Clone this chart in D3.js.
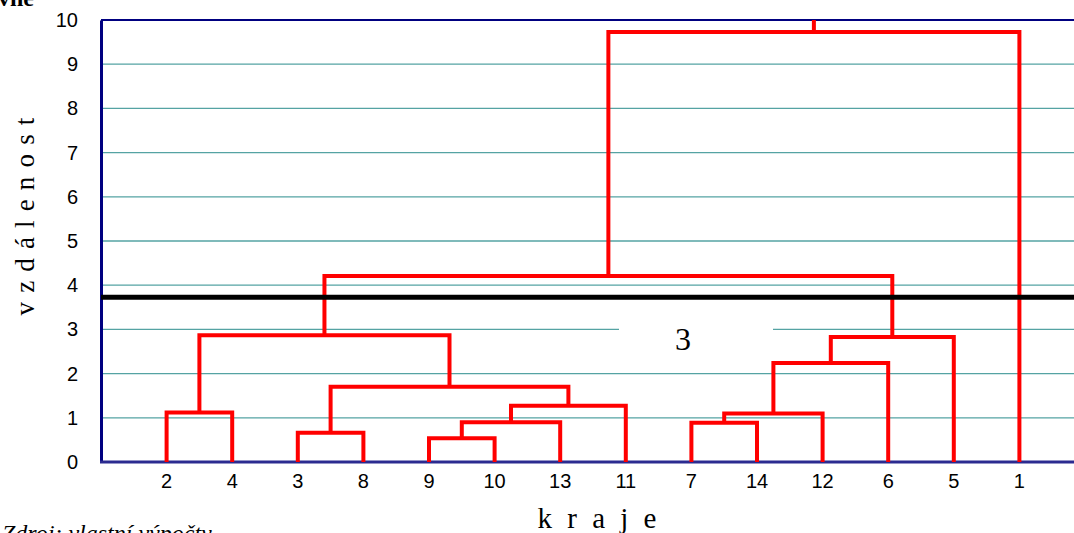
<!DOCTYPE html>
<html><head><meta charset="utf-8">
<script src="https://cdn.jsdelivr.net/npm/d3@7"></script>
<style>body{margin:0;background:#fff;overflow:hidden}svg{display:block}</style>
</head><body>
<script>
const leaves = ["2","4","3","8","9","10","13","11","7","14","12","6","5","1"];
// merges: left/right are leaf labels or "m<index>" of an earlier merge
const mergeLeft  = ["2","3","9","m2","m3","m1","m0","7","m7","m8","m9","m6","m11"];
const mergeRight = ["4","8","10","13","11","m4","m5","14","12","6","5","m10","1"];
const mergeHeight = [1.12,0.66,0.54,0.90,1.27,1.70,2.87,0.89,1.10,2.24,2.83,4.21,9.73];
const yTicks = [0,1,2,3,4,5,6,7,8,9,10];
const cutHeight = 3.73;
const clusterLabel = "3";

const W=1074,H=533;
const svg=d3.select("body").append("svg").attr("width",W).attr("height",H);
const x=d3.scaleLinear().domain([0,15]).range([101,1085]);
const y=d3.scaleLinear().domain([0,10]).range([462,20]);
const right=W;
const sans="Liberation Sans, Arial, sans-serif", serif="Liberation Serif, Times New Roman, serif";

// gridlines
svg.append("g").selectAll("line").data(yTicks.filter(t=>t>0&&t<10)).join("line")
  .attr("x1",101).attr("x2",right).attr("y1",d=>y(d)).attr("y2",d=>y(d))
  .attr("stroke","#55a3a3").attr("stroke-width",1.3);

// label background
svg.append("rect").attr("x",619).attr("y",y(3.3)).attr("width",154).attr("height",y(2.2)-y(3.3)).attr("fill","#fff");

// axes
const ya=svg.append("g").attr("transform","translate(101,0)").call(d3.axisLeft(y).tickValues(yTicks).tickSize(0).tickPadding(23));
ya.select(".domain").attr("stroke","#000080").attr("stroke-width",3);
ya.selectAll("text").attr("font-family",sans).attr("font-size",20).attr("fill","#000");
svg.append("line").attr("x1",101).attr("x2",right).attr("y1",y(10)).attr("y2",y(10)).attr("stroke","#000080").attr("stroke-width",2);
svg.append("line").attr("x1",100).attr("x2",right).attr("y1",y(0)).attr("y2",y(0)).attr("stroke","#2b2b90").attr("stroke-width",3);

// x tick labels
svg.append("g").selectAll("text").data(leaves).join("text")
  .attr("x",(d,i)=>x(i+1)).attr("y",488).attr("text-anchor","middle")
  .attr("font-family",sans).attr("font-size",20).text(d=>d);

// dendrogram
const pos={};
leaves.forEach((l,i)=>pos[l]={x:x(i+1),h:0});
const segs=[];
mergeLeft.forEach((L,i)=>{
  const a=pos[L], b=pos[mergeRight[i]], h=mergeHeight[i];
  segs.push([[a.x,y(a.h)],[a.x,y(h)],[b.x,y(h)],[b.x,y(b.h)]]);
  pos["m"+i]={x:(a.x+b.x)/2,h:h};
});
const root=pos["m"+(mergeLeft.length-1)];
segs.push([[root.x,y(root.h)],[root.x,y(10)]]);
svg.append("g").selectAll("path").data(segs).join("path")
  .attr("d",d=>d3.line()(d)).attr("fill","none").attr("stroke","#ff0000").attr("stroke-width",4).attr("stroke-linejoin","miter");

// cut line
svg.append("line").attr("x1",101).attr("x2",right).attr("y1",y(cutHeight)).attr("y2",y(cutHeight)).attr("stroke","#000").attr("stroke-width",5);

// cluster label
svg.append("text").attr("x",683).attr("y",350).attr("text-anchor","middle")
  .attr("font-family",serif).attr("font-size",32).text(clusterLabel);

// axis titles
svg.append("text").attr("transform","translate(34,216) rotate(-90)").attr("text-anchor","middle")
  .attr("font-family",serif).attr("font-size",27).attr("letter-spacing",1.2).text("v z d á l e n o s t");
svg.append("text").attr("x",599).attr("y",528).attr("text-anchor","middle")
  .attr("font-family",serif).attr("font-size",29).attr("letter-spacing",4).text("k r a j e");

// captions (partly outside the picture, as in the reference)
svg.append("text").attr("x",34).attr("y",6).attr("text-anchor","end")
  .attr("font-family",serif).attr("font-weight","bold").attr("font-size",24).text("relativne");
svg.append("text").attr("x",2).attr("y",541)
  .attr("font-family",serif).attr("font-style","italic").attr("font-size",24).text("Zdroj: vlastní výpočty");
</script>
</body></html>
